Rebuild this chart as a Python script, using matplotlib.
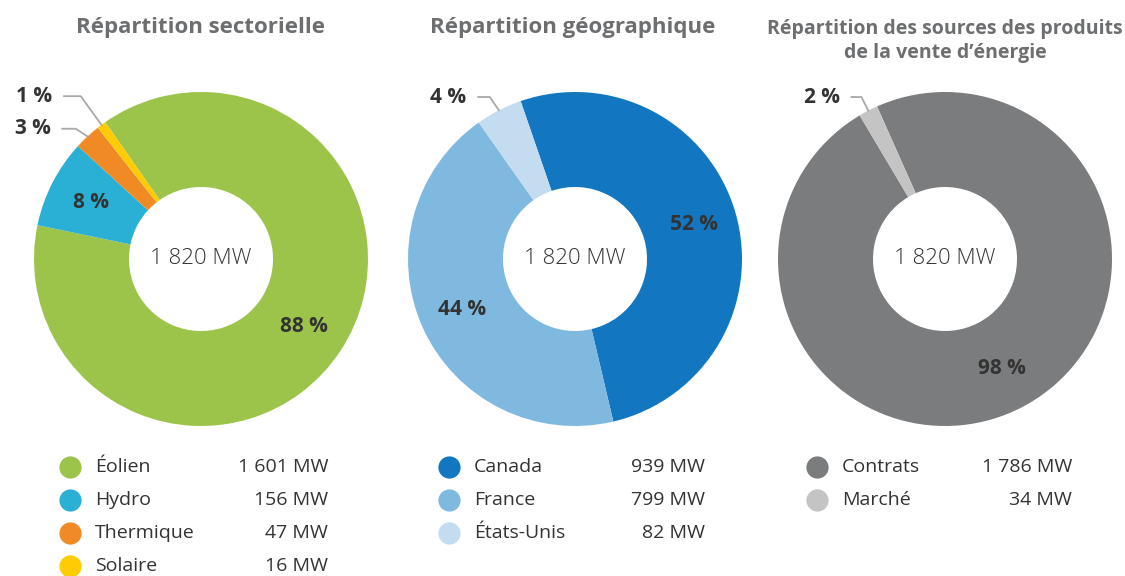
import numpy as np
import matplotlib.pyplot as plt

plt.rcParams['font.family'] = ['Open Sans', 'DejaVu Sans']

W, H = 1125, 576

# Données
titre_secteur = 'Répartition sectorielle'
secteurs = ['Éolien', 'Hydro', 'Thermique', 'Solaire']
secteurs_mw = [1601, 156, 47, 16]
secteurs_pct = ['88 %', '8 %', '3 %', '1 %']
secteurs_couleurs = ['#9dc44a', '#2bb0d5', '#f08a24', '#ffcb05']

titre_geo = 'Répartition géographique'
pays = ['Canada', 'France', 'États-Unis']
pays_mw = [939, 799, 82]
pays_pct = ['52 %', '44 %', '4 %']
pays_couleurs = ['#1277c0', '#80b9e0', '#c3dcf0']

titre_sources = 'Répartition des sources des produits\nde la vente d’énergie'
sources = ['Contrats', 'Marché']
sources_mw = [1786, 34]
sources_pct = ['98 %', '2 %']
sources_couleurs = ['#7a7c7e', '#c4c4c4']

total_texte = '1 820 MW'

GRIS_TITRE = '#6d6e70'
TEXTE = '#333333'
LIGNE = '#a8a8a8'
R = 167
R_INT = 72


def formater_mw(v):
    return f'{v:,}'.replace(',', ' ') + ' MW'


def donut(fig, cx, cy, valeurs, couleurs, angle_depart, pct, externes):
    m = 1.15
    ax = fig.add_axes([(cx - R * m) / W, (H - cy - R * m) / H, 2 * R * m / W, 2 * R * m / H])
    wedges, _ = ax.pie(valeurs, colors=couleurs, startangle=angle_depart, counterclock=False,
                       radius=1, wedgeprops=dict(width=1 - R_INT / R, linewidth=0))
    # pie() impose ses propres limites, on les remet après
    ax.set_xlim(-m, m)
    ax.set_ylim(-m, m)
    ax.axis('off')
    ax.text(0, 0, total_texte, ha='center', va='center', fontsize=16, color=TEXTE, fontweight='light')
    for i, w in enumerate(wedges):
        a = np.deg2rad((w.theta1 + w.theta2) / 2)
        if i in externes:
            # étiquette externe avec ligne de rappel
            ex, ey, fx = externes[i]
            px, py = np.cos(a), np.sin(a)
            ax.plot([px, ex, fx], [py, ey, ey], color=LIGNE, lw=1.3, clip_on=False)
            ax.text(fx - 0.07, ey, pct[i], ha='right', va='center', fontsize=15,
                    fontweight='bold', color=TEXTE)
        else:
            d = 0.74
            ax.text(d * np.cos(a), d * np.sin(a), pct[i], ha='center', va='center',
                    fontsize=15, fontweight='bold', color=TEXTE)
    return ax


def legende(ax, x_rond, x_val, noms, valeurs, couleurs):
    for i, (n, v, c) in enumerate(zip(noms, valeurs, couleurs)):
        y = 467 + i * 33
        ax.plot(x_rond, y, 'o', ms=16, color=c, mec='none')
        ax.text(x_rond + 25, y, n, ha='left', va='center', fontsize=14, color=TEXTE)
        ax.text(x_val, y, formater_mw(v), ha='right', va='center', fontsize=14, color=TEXTE)


fig = plt.figure(figsize=(W / 100, H / 100), dpi=100)
fond = fig.add_axes([0, 0, 1, 1])
fond.set_xlim(0, W)
fond.set_ylim(H, 0)
fond.axis('off')

donut(fig, 201, 259, secteurs_mw, secteurs_couleurs, 125, secteurs_pct,
      {2: (-0.75, 0.78, -0.83), 3: (-0.72, 0.975, -0.82)})
donut(fig, 575, 259, pays_mw, pays_couleurs, 109, pays_pct,
      {2: (-0.51, 0.97, -0.58)})
donut(fig, 945, 259, sources_mw, sources_couleurs, 114, sources_pct,
      {1: (-0.50, 0.97, -0.56)})

fond.text(201, 28, titre_secteur, ha='center', va='center', fontsize=16, fontweight='bold', color=GRIS_TITRE)
fond.text(573, 28, titre_geo, ha='center', va='center', fontsize=16, fontweight='bold', color=GRIS_TITRE)
fond.text(945, 41, titre_sources, ha='center', va='center', fontsize=14, fontweight='bold',
          color=GRIS_TITRE, linespacing=1.3)

legende(fond, 70, 328, secteurs, secteurs_mw, secteurs_couleurs)
legende(fond, 449, 705, pays, pays_mw, pays_couleurs)
legende(fond, 817, 1072, sources, sources_mw, sources_couleurs)

fig.savefig('out.png', dpi=100)
